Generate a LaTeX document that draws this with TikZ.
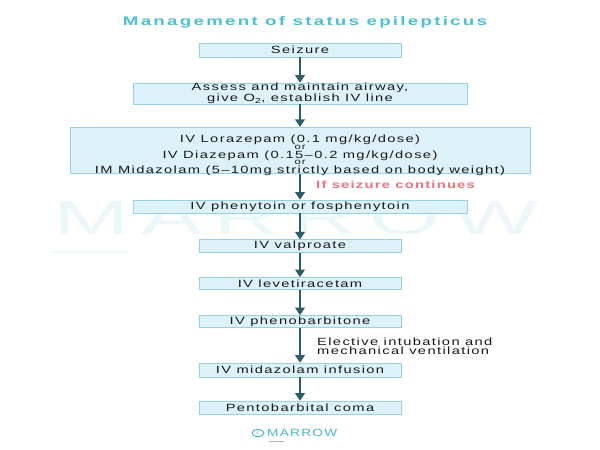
\documentclass[tikz,border=0pt]{standalone}
\usepackage{fontspec}
\setmainfont{Liberation Sans}[FakeStretch=1.4, LetterSpace=13]
\newfontfamily\titlefont{Liberation Sans Bold}[FakeStretch=1.5, LetterSpace=18]
\newfontfamily\pinkfont{Liberation Sans Bold}[FakeStretch=1.4, LetterSpace=12]
\newfontfamily\wmfont{Liberation Sans}[FakeStretch=1.9, LetterSpace=25]
\newfontfamily\logofont{Liberation Sans}[FakeStretch=1.3, LetterSpace=12]
\usetikzlibrary{arrows.meta,shapes.geometric}
\definecolor{titlecol}{RGB}{78,192,214}
\definecolor{boxfill}{RGB}{221,242,248}
\definecolor{boxline}{RGB}{150,210,226}
\definecolor{arrcol}{RGB}{42,92,106}
\definecolor{pinkcol}{RGB}{240,112,128}
\definecolor{wmcol}{RGB}{236,247,250}
\definecolor{logocol}{RGB}{76,182,214}
\definecolor{txtcol}{RGB}{25,25,25}
\tikzset{
  stepbox/.style={draw=boxline, fill=boxfill, line width=0.6pt, inner sep=0pt,
    align=center, text=txtcol, font=\fontsize{10.5}{9}\selectfont},
  arr/.style={draw=arrcol, line width=2.6pt, -{Triangle[width=9.5pt,length=7.5pt]}},
}
\newcommand{\orword}{{\fontsize{8}{7.8}\selectfont or}}
\newcommand{\drugtext}{{\renewcommand{\arraystretch}{0}%
\begin{tabular}{@{}c@{}}
\rule{0pt}{15.5pt}\smash{IV Lorazepam (0.1 mg/kg/dose)}\\[6.5pt]
\smash{\orword}\\[9pt]
\smash{IV Diazepam (0.15–0.2 mg/kg/dose)}\\[6.5pt]
\smash{\orword}\\[9pt]
\smash{IM Midazolam (5–10mg strictly based on body weight)}
\end{tabular}}}
\begin{document}
\begin{tikzpicture}[x=1pt,y=-1pt]
\useasboundingbox (0,0) rectangle (600,450);
\fill[white] (0,0) rectangle (600,450);
% watermark
\node[text=wmcol, font=\wmfont\fontsize{48}{48}\selectfont, anchor=west, inner sep=0pt] (wm) at (53,218) {MARROW};
\fill[wmcol] (53,250.5) rectangle (128,252.5);
% title
\node[text=titlecol, font=\titlefont\fontsize{12.5}{12.5}\selectfont] (title) at (305,22) {Management of status epilepticus};
% boxes
\node[stepbox, minimum width=202, minimum height=14] (seiz) at (300,50) {Seizure};
\node[stepbox, minimum width=334, minimum height=21] (assess) at (300,93.5) {Assess and maintain airway,\\give O\textsubscript{2}, establish IV line};
\node[stepbox, minimum width=460, minimum height=43.5] (drug) at (300,150.5) {\drugtext};
\node[stepbox, minimum width=334, minimum height=13] (phen) at (300,206.5) {IV phenytoin or fosphenytoin};
\node[stepbox, minimum width=202, minimum height=12.5] (valp) at (300,246) {IV valproate};
\node[stepbox, minimum width=202, minimum height=12] (leve) at (300,283.5) {IV levetiracetam};
\node[stepbox, minimum width=202, minimum height=12] (phenob) at (300,321.5) {IV phenobarbitone};
\node[stepbox, minimum width=202, minimum height=14] (mida) at (300,370) {IV midazolam infusion};
\node[stepbox, minimum width=202, minimum height=13] (pento) at (300,407.5) {Pentobarbital coma};
% labels
\node[text=pinkcol, font=\pinkfont\fontsize{10.5}{10}\selectfont, anchor=west, inner sep=0pt] (cont) at (316,185) {If seizure continues};
\node[text=txtcol, font=\fontsize{10.5}{9}\selectfont, align=left, anchor=west, inner sep=0pt] (elect) at (317,346) {Elective intubation and\\mechanical ventilation};
% arrows
\draw[arr] (seiz) -- (assess);
\draw[arr] (assess) -- (drug);
\draw[arr] (drug) -- (phen);
\draw[arr] (phen) -- (valp);
\draw[arr] (valp) -- (leve);
\draw[arr] (leve) -- (phenob);
\draw[arr] (phenob) -- (mida);
\draw[arr] (mida) -- (pento);
% logo
\node[draw=logocol, line width=1pt, ellipse, inner sep=0pt, minimum width=12, minimum height=7] (copy) at (258,433) {};
\node[text=logocol, font=\fontsize{4.5}{4.5}\selectfont, inner sep=0pt] (copyc) at (258,433) {c};
\node[text=logocol, font=\logofont\fontsize{10.5}{10}\selectfont, anchor=west, inner sep=0pt] (logo) at (267,433) {MARROW};
\fill[gray!60] (269,440.5) rectangle (284,441.2);
\end{tikzpicture}
\end{document}
